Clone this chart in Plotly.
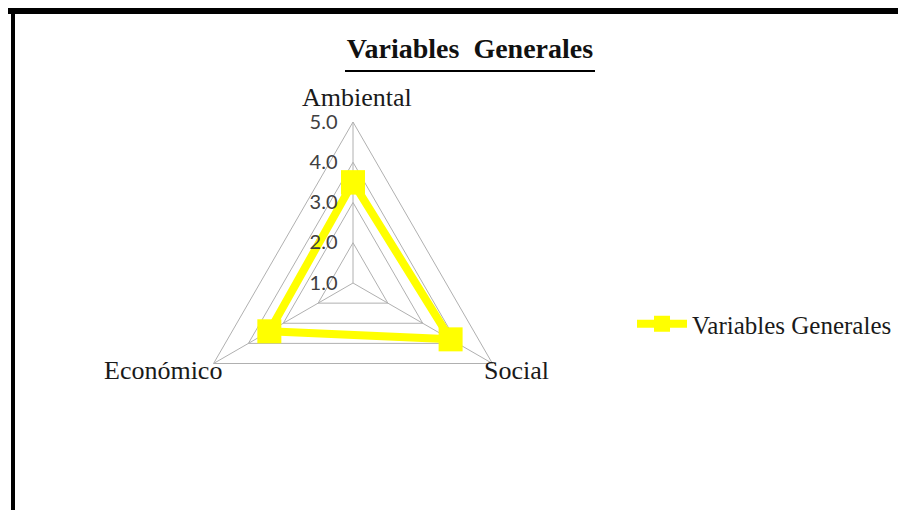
import plotly.graph_objects as go

categories = ["Ambiental", "Social", "Económico"]
values = [3.5, 3.8, 3.4]
series_name = "Variables Generales"
tick_vals = [1, 2, 3, 4, 5]
tick_text = ["1.0", "2.0", "3.0", "4.0", "5.0"]
title_text = "Variables\u00a0\u00a0Generales"

theta = categories + [categories[0]]
r = values + [values[0]]

fig = go.Figure()
fig.add_trace(go.Scatterpolar(
    r=r, theta=theta, mode="lines+markers", name=series_name,
    line=dict(color="#FFFF00", width=8),
    marker=dict(symbol="square", size=24, color="#FFFF00"),
))

W, H = 906, 510
cx, cy, R = 345, 275, 161

# category label placement (layout only)
label_pos = {
    "Ambiental": dict(x=349, y=89, xanchor="center"),
    "Social": dict(x=474, y=362, xanchor="left"),
    "Económico": dict(x=216, y=362, xanchor="right"),
}
annotations = []
for cat in categories:
    p = label_pos[cat]
    annotations.append(dict(text=cat, x=p["x"] / W, y=1 - p["y"] / H, xref="paper", yref="paper",
                            xanchor=p["xanchor"], yanchor="middle", showarrow=False,
                            font=dict(family="Liberation Serif", size=26, color="#1a1a1a")))

fig.update_layout(
    width=W, height=H,
    margin=dict(l=0, r=0, t=0, b=0),
    paper_bgcolor="white", plot_bgcolor="white",
    title=dict(text="<b>" + title_text + "</b>", x=462 / W, xanchor="center",
               y=1 - 40 / H, yanchor="middle",
               font=dict(family="Liberation Serif", size=28, color="#111111")),
    annotations=annotations,
    polar=dict(
        domain=dict(x=[(cx - R) / W, (cx + R) / W], y=[1 - (cy + R) / H, 1 - (cy - R) / H]),
        gridshape="linear",
        bgcolor="white",
        angularaxis=dict(rotation=90, direction="clockwise",
                         showline=True, linecolor="#b0b0b0", linewidth=1,
                         gridcolor="#b0b0b0", gridwidth=1,
                         ticks="", showticklabels=False),
        radialaxis=dict(range=[1, 5], tickvals=tick_vals, ticktext=tick_text,
                        angle=90, side="counterclockwise", tickangle=90,
                        showline=False, ticks="outside", ticklen=8, tickcolor="rgba(0,0,0,0)",
                        gridcolor="#b0b0b0", gridwidth=1,
                        tickfont=dict(family="Lato", size=20, color="#404040")),
    ),
    legend=dict(x=624 / W, y=1 - 316 / H, xanchor="left", yanchor="middle",
                font=dict(family="Liberation Serif", size=25, color="#1a1a1a"),
                bgcolor="rgba(0,0,0,0)", itemwidth=50),
    showlegend=True,
    shapes=[
        dict(type="rect", xref="paper", yref="paper", x0=0, x1=1, y0=1 - 6 / H, y1=1,
             fillcolor="black", line=dict(width=0)),
        dict(type="rect", xref="paper", yref="paper", x0=3 / W, x1=7 / W, y0=0, y1=1,
             fillcolor="black", line=dict(width=0)),
        dict(type="line", xref="paper", yref="paper", x0=337 / W, x1=587 / W,
             y0=1 - 63 / H, y1=1 - 63 / H, line=dict(color="black", width=2)),
    ],
)

fig.write_html("out.html")
